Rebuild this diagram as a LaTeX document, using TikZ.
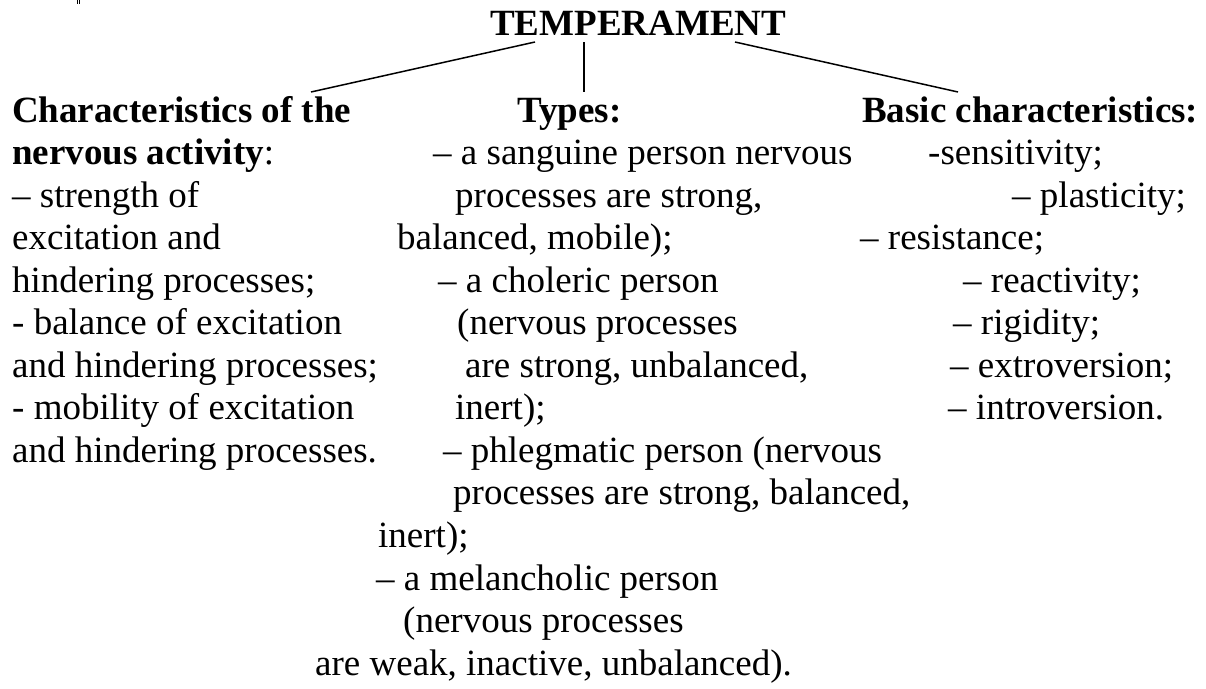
\documentclass[tikz,border=0pt]{standalone}
\usepackage{fontspec}
\setmainfont{Liberation Serif}
\begin{document}
\begin{tikzpicture}[x=1pt, y=-1pt,
  txt/.style={anchor=base west, inner sep=0pt, font=\fontsize{37}{42.55}\selectfont},
  hd/.style={txt, font=\fontsize{37}{42.55}\selectfont\bfseries},
  branch/.style={line width=1.5pt, line cap=butt}]
\useasboundingbox (0,0) rectangle (1206,688);
% baseline of row k
\def\rowgap{42.55}
\def\rowzero{122}

% small stroke fragment at the top edge
\draw[line width=0.9pt] (77.5,0) -- (77.5,4);
\draw[line width=0.9pt] (79.8,0) -- (79.8,4);

% title
\node[hd] (title) at (490,35) {TEMPERAMENT};

% left column
\node[hd] (l0) at (12,{\rowzero+0*\rowgap}) {Characteristics of the};
\node[txt] (l1) at (12,{\rowzero+1*\rowgap}) {\textbf{nervous activity}:};
\node[txt] (l2) at (12,{\rowzero+2*\rowgap}) {– strength of};
\node[txt] (l3) at (12,{\rowzero+3*\rowgap}) {excitation and};
\node[txt] (l4) at (12,{\rowzero+4*\rowgap}) {hindering processes;};
\node[txt] (l5) at (12,{\rowzero+5*\rowgap}) {- balance of excitation};
\node[txt] (l6) at (12,{\rowzero+6*\rowgap}) {and hindering processes;};
\node[txt] (l7) at (12,{\rowzero+7*\rowgap}) {- mobility of excitation};
\node[txt] (l8) at (12,{\rowzero+8*\rowgap}) {and hindering processes.};

% middle column
\node[hd] (m0) at (517,{\rowzero+0*\rowgap}) {Types:};
\node[txt] (m1) at (433,{\rowzero+1*\rowgap}) {– a sanguine person nervous};
\node[txt] (m2) at (455,{\rowzero+2*\rowgap}) {processes are strong,};
\node[txt] (m3) at (397,{\rowzero+3*\rowgap}) {balanced, mobile);};
\node[txt] (m4) at (438,{\rowzero+4*\rowgap}) {– a choleric person};
\node[txt] (m5) at (457,{\rowzero+5*\rowgap}) {(nervous processes};
\node[txt] (m6) at (465,{\rowzero+6*\rowgap}) {are strong, unbalanced,};
\node[txt] (m7) at (455,{\rowzero+7*\rowgap}) {inert);};
\node[txt] (m8) at (443,{\rowzero+8*\rowgap}) {– phlegmatic person (nervous};
\node[txt] (m9) at (453,{\rowzero+9*\rowgap}) {processes are strong, balanced,};
\node[txt] (m10) at (378,{\rowzero+10*\rowgap}) {inert);};
\node[txt] (m11) at (376,{\rowzero+11*\rowgap}) {– a melancholic person};
\node[txt] (m12) at (403,{\rowzero+12*\rowgap}) {(nervous processes};
\node[txt] (m13) at (315,{\rowzero+13*\rowgap}) {are weak, inactive, unbalanced).};

% right column
\node[hd] (r0) at (862,{\rowzero+0*\rowgap}) {Basic characteristics:};
\node[txt] (r1) at (928,{\rowzero+1*\rowgap}) {-sensitivity;};
\node[txt] (r2) at (1012,{\rowzero+2*\rowgap}) {– plasticity;};
\node[txt] (r3) at (860,{\rowzero+3*\rowgap}) {– resistance;};
\node[txt] (r4) at (963,{\rowzero+4*\rowgap}) {– reactivity;};
\node[txt] (r5) at (953,{\rowzero+5*\rowgap}) {– rigidity;};
\node[txt] (r6) at (950,{\rowzero+6*\rowgap}) {– extroversion;};
\node[txt] (r7) at (948,{\rowzero+7*\rowgap}) {– introversion.};

% branch end points
\coordinate (tl) at (535,42);
\coordinate (tm) at (584,42);
\coordinate (tr) at (735,42);
\coordinate (hl) at (311,92);
\coordinate (hm) at (584,92);
\coordinate (hr) at (958,92);

\draw[branch] (tl) -- (hl);
\draw[branch] (tm) -- (hm);
\draw[branch] (tr) -- (hr);
\end{tikzpicture}
\end{document}
